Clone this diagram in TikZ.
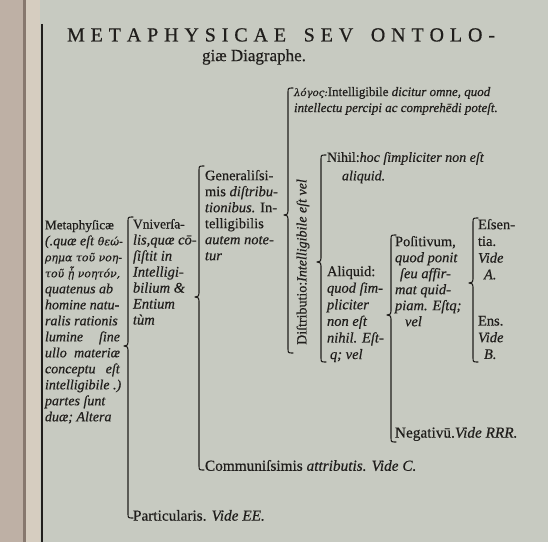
\documentclass[tikz,border=0pt]{standalone}
\usepackage{fontspec}
\setmainfont{Liberation Serif}[FakeBold=0.5]
\newfontfamily\greekfont{DejaVu Serif}[Scale=0.78,FakeBold=0.3]
\usetikzlibrary{calc}
\definecolor{paper}{RGB}{199,202,193}
\definecolor{edge}{RGB}{190,176,165}
\definecolor{edgelight}{RGB}{214,205,192}
\definecolor{gutter}{RGB}{135,120,110}
\definecolor{ink}{RGB}{32,30,28}
\newcommand{\gk}[1]{{\greekfont\itshape #1}}
\newcommand{\J}[2]{\makebox[#1][s]{#2}}
\newcommand{\drawbrace}[3]{%
  \draw[brace] ($(#1)+(5,0)$) .. controls (#1) .. ($(#1)+(0,5)$)
    -- ($(#2)+(4,-4)$) .. controls ($(#2)+(4,-1)$) .. (#2)
    .. controls ($(#2)+(4,1)$) .. ($(#2)+(4,4)$)
    -- ($(#3)+(0,-5)$) .. controls (#3) .. ($(#3)+(5,0)$);}
\tikzset{
  txt/.style={anchor=north west, inner sep=0pt, outer sep=0pt, align=left,
    text=ink, font=\fontsize{14.5}{16}\selectfont},
  big/.style={font=\fontsize{15.3}{16}\selectfont},
  brace/.style={draw=ink, line width=1.1pt, line cap=round, line join=round},
  rule/.style={draw=ink, line width=1.1pt},
}
\begin{document}
\begin{tikzpicture}[x=1pt,y=-1pt]
% page
\fill[paper] (0,0) rectangle (548,542);
\fill[edge] (0,0) rectangle (24,542);
\fill[edgelight] (25,0) rectangle (40,542);
\fill[gutter] (23,0) rectangle (25.5,542);
\coordinate (rt) at (42,24);
\coordinate (rb) at (42,542);
\draw[rule] (rt) -- (rb);
\useasboundingbox (0,0) rectangle (548,542);

% title
\node[text=ink, font=\fontsize{20}{22}\selectfont] (title) at (281,35)
  {\J{428pt}{M E T A P H Y S I C A E \ \ S E V \ \ O N T O L O -}};
\node[text=ink, font=\fontsize{17}{20}\selectfont] (subtitle) at (254,57) {giæ Diagraphe.};

% level 0
\node[txt, font=\fontsize{14}{16}\selectfont] (meta) at (45,220) {%
{\fontsize{13.2}{16}\selectfont Metaphyſicæ}\\
\textit{(.quæ eſt} \gk{θεώ-}\\
\gk{ρημα τοῦ νοη-}\\
\gk{τοῦ ᾗ νοητόν,}\\
\textit{quatenus ab}\\
\textit{homine natu-}\\
\textit{ralis rationis}\\
\J{75pt}{\textit{lumine ſine}}\\
\J{75pt}{\textit{ullo materiæ}}\\
\J{75pt}{\textit{conceptu eſt}}\\
\textit{intelligibile .)}\\
\textit{partes ſunt}\\
\textit{duæ; Altera}};

% level 1
\node[txt] (univ) at (133,219) {%
{\fontsize{13.5}{16}\selectfont Vniverſa-}\\
\textit{lis,quæ cō-}\\
\textit{ſiſtit in}\\
\textit{Intelligi-}\\
\textit{bilium \&}\\
\textit{Entium}\\
\textit{tùm}};
\node[txt, big] (part) at (133,510) {Particularis. \textit{Vide EE.}};

% level 2
\node[txt] (gen) at (205,170) {%
Generaliſsi-\\
mis \textit{diſtribu-}\\
\textit{tionibus.} In-\\
telligibilis\\
\textit{autem note-}\\
\textit{tur}};
\node[txt, big] (comm) at (205,460) {Communiſsimis \textit{attributis. Vide C.}};

% level 3
\node[txt, font=\fontsize{13}{16}\selectfont] (logos) at (294,87) {%
\gk{λόγος:}Intelligibile \textit{dicitur omne, quod}\\
\textit{intellectu percipi ac comprehēdi poteſt.}};
\node[text=ink, inner sep=0pt, rotate=90, font=\fontsize{14}{16}\selectfont] (distr) at (303,262)
  {Diſtributio:\textit{Intelligibile eſt vel}};

% level 4
\node[txt, font=\fontsize{14}{16}\selectfont] (nihil) at (327,152) {%
Nihil:\textit{hoc ſimpliciter non eſt}\\[2.5pt]
\hspace*{15pt}\textit{aliquid.}};
\node[txt, font=\fontsize{14.5}{16.6}\selectfont] (aliq) at (327,266) {%
Aliquid:\\
\textit{quod ſim-}\\
\textit{pliciter}\\
\textit{non eſt}\\
\textit{nihil. Eſt-}\\
\hspace*{3pt}\textit{q; vel}};

% level 5
\node[txt] (posit) at (395,236) {%
Poſitivum,\\
\textit{quod ponit}\\
\hspace*{5pt}\textit{ſeu affir-}\\
\textit{mat quid-}\\
\textit{piam. Eſtq;}\\
\hspace*{10pt}\textit{vel}};
\node[txt, big] (negat) at (395,427) {Negativū.\textit{Vide RRR.}};

% level 6
\node[txt, font=\fontsize{14.5}{16.7}\selectfont] (essen) at (478,219) {%
Eſsen-\\
tia.\\
\textit{Vide}\\
\hspace*{6pt}\textit{A.}};
\node[txt, font=\fontsize{14.5}{16.7}\selectfont] (ens) at (478,316) {%
Ens.\\
\textit{Vide}\\
\hspace*{6pt}\textit{B.}};

% braces: top, cusp, bottom
\coordinate (b1t) at (128,217); \coordinate (b1c) at (124,346); \coordinate (b1b) at (128,518);
\coordinate (b2t) at (199,166); \coordinate (b2c) at (195,297); \coordinate (b2b) at (199,470);
\coordinate (b3t) at (288,88);  \coordinate (b3c) at (284,215); \coordinate (b3b) at (288,353);
\coordinate (b4t) at (321,155); \coordinate (b4c) at (317,262); \coordinate (b4b) at (321,362);
\coordinate (b5t) at (391,235); \coordinate (b5c) at (387,315); \coordinate (b5b) at (391,442);
\coordinate (b6t) at (473,218); \coordinate (b6c) at (469,283); \coordinate (b6b) at (473,362);
\drawbrace{b1t}{b1c}{b1b}
\drawbrace{b2t}{b2c}{b2b}
\drawbrace{b3t}{b3c}{b3b}
\drawbrace{b4t}{b4c}{b4b}
\drawbrace{b5t}{b5c}{b5b}
\drawbrace{b6t}{b6c}{b6b}
\end{tikzpicture}
\end{document}
